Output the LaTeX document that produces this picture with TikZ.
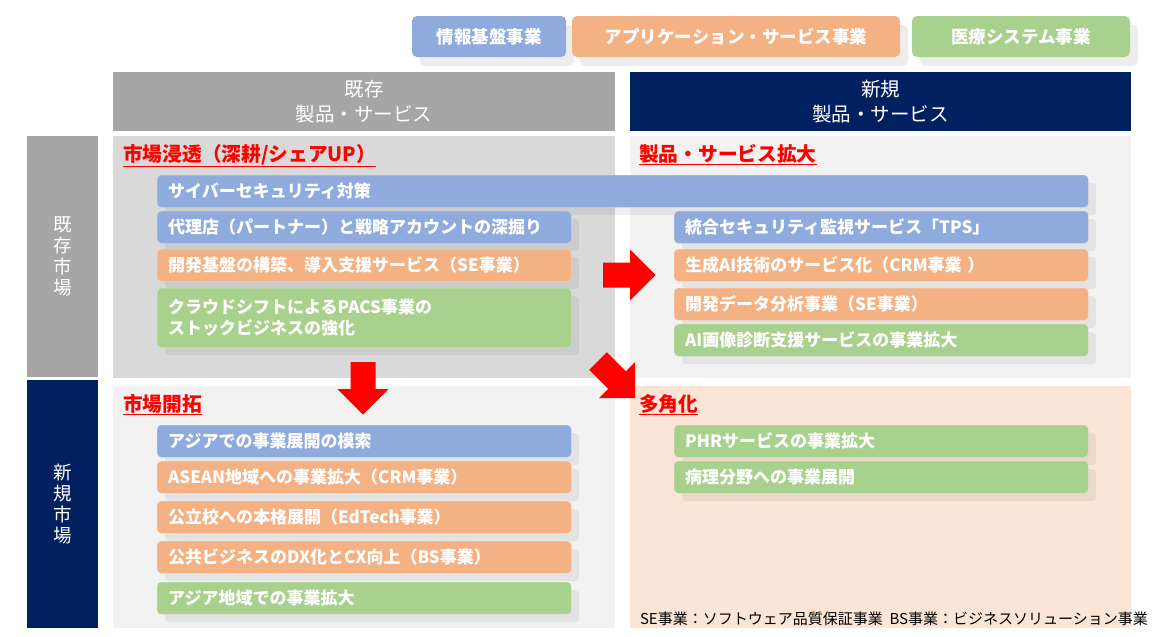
\documentclass[tikz,border=0pt]{standalone}
\usepackage{fontspec}
\setmainfont{Noto Sans CJK JP}
\usepackage{xcolor}
\usepackage{tikz}
\usetikzlibrary{positioning, shadows}
\definecolor{infocolor}{RGB}{143,170,220}
\definecolor{appcolor}{RGB}{244,177,131}
\definecolor{medcolor}{RGB}{169,209,142}
\definecolor{oldcolor}{RGB}{166,166,166}
\definecolor{newcolor}{RGB}{0,32,96}
\definecolor{penecolor}{RGB}{217,217,217}
\definecolor{panecolor}{RGB}{242,242,242}
\definecolor{divcolor}{RGB}{251,229,214}

\begin{document}
\begin{tikzpicture}[
    x=1pt, y=-1pt,
    keybox/.style={rounded corners=5pt, minimum height=41pt, inner sep=0pt, text=white, font=\fontsize{17.5}{20}\selectfont\bfseries, drop shadow={shadow xshift=8pt, shadow yshift=-9pt, fill=black, opacity=0.07}},
    header/.style={anchor=north west, minimum height=59pt, inner sep=0pt, text=white, align=center, font=\fontsize{19.5}{25}\selectfont},
    side/.style={anchor=north west, minimum width=71pt, inner sep=0pt, text=white, align=center, font=\fontsize{18.5}{21}\selectfont},
    quad/.style={anchor=north west, minimum width=502pt, minimum height=242pt, inner sep=0pt},
    heading/.style={anchor=base west, inner sep=0pt, text=red, font=\fontsize{19.7}{24}\selectfont\bfseries},
    bar/.style={anchor=north west, rounded corners=4pt, minimum height=32pt, text width=392pt, align=left, inner xsep=11pt, inner ysep=2pt, text=white, font=\fontsize{17}{21}\selectfont\bfseries, drop shadow={shadow xshift=8pt, shadow yshift=-8pt, fill=black, opacity=0.06}},
    info/.style={bar, fill=infocolor, draw=infocolor!60!white},
    app/.style={bar, fill=appcolor, draw=appcolor!60!white},
    med/.style={bar, fill=medcolor, draw=medcolor!60!white},
    pics/shiftarrow/.style={code={\fill[red] (0,-12.5) -- (27,-12.5) -- (27,-25.5) -- (52.5,0) -- (27,25.5) -- (27,12.5) -- (0,12.5) -- cycle;}}
]
    \useasboundingbox (0,0) rectangle (1165,637);

    % Legend
    \node[keybox, fill=infocolor, minimum width=154pt] (keyinfo) at (489,36.5) {情報基盤事業};
    \node[keybox, fill=appcolor, minimum width=328pt] (keyapp) at (736,36.5) {アプリケーション・サービス事業};
    \node[keybox, fill=medcolor, minimum width=218pt] (keymed) at (1021,36.5) {医療システム事業};

    % Headers
    \node[header, fill=oldcolor, minimum width=502pt] (oldprod) at (113,72) {既存\\製品・サービス};
    \node[header, fill=newcolor, minimum width=501pt] (newprod) at (630,72) {新規\\製品・サービス};
    \node[side, fill=oldcolor, minimum height=241pt] (oldmkt) at (27,136) {既\\存\\市\\場};
    \node[side, fill=newcolor, minimum height=248pt] (newmkt) at (27,380) {新\\規\\市\\場};

    % Quadrants
    \node[quad, fill=penecolor] (penetrate) at (113,136) {};
    \node[quad, fill=panecolor, minimum width=501pt] (expand) at (630,136) {};
    \node[quad, fill=panecolor] (develop) at (113,386) {};
    \node[quad, fill=divcolor, minimum width=501pt] (diversify) at (630,386) {};

    \node[heading] (penetitle) at (123,161) {\underline{市場浸透（深耕/シェアUP）}};
    \node[heading] (exptitle) at (639,161) {\underline{製品・サービス拡大}};
    \node[heading] (devtitle) at (123,411) {\underline{市場開拓}};
    \node[heading] (divtitle) at (639,411) {\underline{多角化}};

    % Existing market
    \node[info, text width=909pt] (cyber) at (157,175) {サイバーセキュリティ対策};
    \node[info] (agency) at (157,211) {代理店（パートナー）と戦略アカウントの深掘り};
    \node[app] (devbase) at (157,249) {開発基盤の構築、導入支援サービス（SE事業）};
    \node[med, minimum height=59pt] (pacs) at (157,288) {クラウドシフトによるPACS事業の\\ストックビジネスの強化};

    \node[info] (tps) at (674,211) {統合セキュリティ監視サービス「TPS」};
    \node[app] (genai) at (674,249) {生成AI技術のサービス化（CRM事業 ）};
    \node[app] (devdata) at (674,288) {開発データ分析事業（SE事業）};
    \node[med] (aiimage) at (674,324) {AI画像診断支援サービスの事業拡大};

    % New market
    \node[info] (asia) at (157,425) {アジアでの事業展開の模索};
    \node[app] (asean) at (157,461) {ASEAN地域への事業拡大（CRM事業）};
    \node[app] (school) at (157,501) {公立校への本格展開（EdTech事業）};
    \node[app] (public) at (157,541) {公共ビジネスのDX化とCX向上（BS事業）};
    \node[med] (asiamed) at (157,582) {アジア地域での事業拡大};

    \node[med] (phr) at (674,425) {PHRサービスの事業拡大};
    \node[med] (patho) at (674,461) {病理分野への事業展開};

    % Arrows
    \pic at (603,275) {shiftarrow};
    \pic[rotate=-90] at (363,362) {shiftarrow};
    \pic[rotate=-45] at (598,361) {shiftarrow};

    \node[anchor=east, inner sep=0pt, font=\fontsize{15}{18}\selectfont] (note) at (1148,619) {SE事業：ソフトウェア品質保証事業\ \ BS事業：ビジネスソリューション事業};
\end{tikzpicture}
\end{document}
